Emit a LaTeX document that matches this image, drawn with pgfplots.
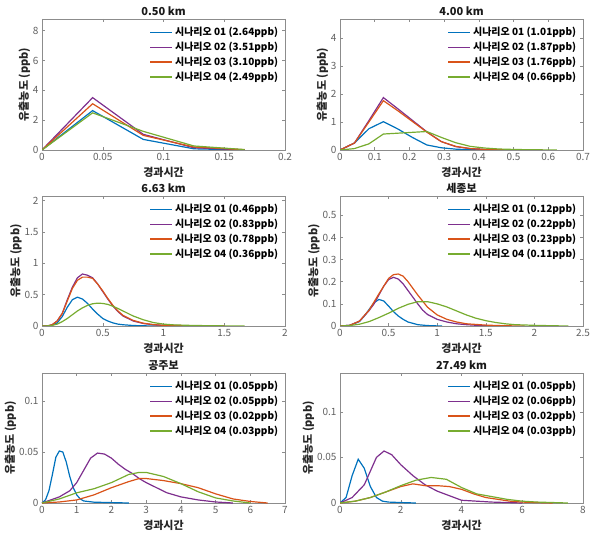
\documentclass[border=0pt]{standalone}
\usepackage{fontspec}
\setmainfont{Noto Sans CJK KR}
\usepackage{pgfplots}
\pgfplotsset{compat=1.18}
\definecolor{c1}{RGB}{0,114,189}
\definecolor{c2}{RGB}{126,47,142}
\definecolor{c3}{RGB}{217,83,25}
\definecolor{c4}{RGB}{119,172,48}
\pgfplotsset{
  legend image code/.code={\draw[#1, line width=1.2pt] (0pt,0pt) -- (22pt,0pt);},
  every axis title shift=0pt,
  panel/.style={
    scale only axis, width=243pt, xmin=0, ymin=0,
    axis line style={black!45}, tick style={black!45, line width=0.5pt},
    tick align=inside, major tick length=3pt,
    ticklabel style={text=black!62, font=\fontsize{10}{12}\selectfont},
    /pgf/number format/assume math mode=true,
    /pgf/number format/fixed,
    scaled ticks=false,
    xlabel={경과시간}, ylabel={유출농도 (ppb)},
    label style={font=\fontsize{11}{13}\selectfont\bfseries, text=black!85},
    xlabel style={yshift=1pt},
    ylabel style={yshift=-4pt},
    title style={at={(axis description cs:0.5,1)}, anchor=base, yshift=3.5pt,
      font=\fontsize{11}{13}\selectfont\bfseries, text=black!90},
    legend style={at={(axis description cs:0.985,1)}, anchor=north east, yshift=-5pt, draw=none, fill=none,
      font=\fontsize{10}{12}\selectfont\bfseries, row sep=1pt, inner sep=1pt},
    legend cell align=left,
    every axis plot/.append style={line width=1.2pt, mark=none},
  }
}
\begin{document}
\begin{tikzpicture}
\path[use as bounding box] (0,0) rectangle (603pt,547pt);
% Panel 1
\begin{axis}[panel, at={(42pt,397pt)}, anchor=south west, height=131pt,
  title={0.50 km}, xmax=0.2, ymax=8.78, xtick={0,0.05,0.1,0.15,0.2}, ytick={0,2,4,6,8}]
\addplot[c1] coordinates {(0,0) (0.04167,2.64) (0.08333,0.71) (0.125,0.08) (0.16667,0)};
\addplot[c2] coordinates {(0,0) (0.04167,3.51) (0.08333,1.05) (0.125,0.15) (0.16667,0.01)};
\addplot[c3] coordinates {(0,0) (0.04167,3.10) (0.08333,0.98) (0.125,0.2) (0.16667,0.02)};
\addplot[c4] coordinates {(0,0) (0.04167,2.49) (0.08333,1.25) (0.125,0.27) (0.16667,0.03)};
\legend{시나리오 01 (2.64ppb),시나리오 02 (3.51ppb),시나리오 03 (3.10ppb),시나리오 04 (2.49ppb)}
\end{axis}
% Panel 2
\begin{axis}[panel, at={(340pt,397pt)}, anchor=south west, height=131pt,
  title={4.00 km}, xmax=0.7, ymax=4.675, xtick={0,0.1,...,0.7}, ytick={0,1,2,3,4}]
\addplot[c1] coordinates {(0,0) (0.04167,0.25) (0.08333,0.76) (0.125,1.01) (0.16667,0.75) (0.20833,0.45) (0.25,0.18) (0.29167,0.08) (0.33333,0.03) (0.375,0.01) (0.41667,0.003) (0.5,0)};
\addplot[c2] coordinates {(0,0) (0.04167,0.25) (0.08333,1.05) (0.125,1.87) (0.16667,1.47) (0.20833,1.06) (0.25,0.65) (0.29167,0.3) (0.33333,0.12) (0.375,0.05) (0.41667,0.02) (0.5,0.004) (0.58333,0)};
\addplot[c3] coordinates {(0,0) (0.04167,0.25) (0.08333,1.0) (0.125,1.76) (0.16667,1.4) (0.20833,1.02) (0.25,0.64) (0.29167,0.3) (0.33333,0.13) (0.375,0.05) (0.41667,0.02) (0.5,0.005) (0.58333,0)};
\addplot[c4] coordinates {(0,0) (0.04167,0.05) (0.08333,0.22) (0.125,0.57) (0.16667,0.6) (0.20833,0.63) (0.25,0.66) (0.29167,0.45) (0.33333,0.26) (0.375,0.13) (0.41667,0.07) (0.45833,0.035) (0.5,0.02) (0.54167,0.01) (0.58333,0.005) (0.625,0)};
\legend{시나리오 01 (1.01ppb),시나리오 02 (1.87ppb),시나리오 03 (1.76ppb),시나리오 04 (0.66ppb)}
\end{axis}
% Panel 3
\begin{axis}[panel, at={(42pt,221pt)}, anchor=south west, height=130pt,
  title={6.63 km}, xmax=2, ymax=2.075, xtick={0,0.5,1,1.5,2}, ytick={0,0.5,1,1.5,2}]
\addplot[c1] coordinates {(0,0) (0.04167,0) (0.08333,0.01) (0.125,0.05) (0.16667,0.15) (0.20833,0.3) (0.25,0.42) (0.29167,0.46) (0.33333,0.43) (0.375,0.36) (0.41667,0.27) (0.45833,0.19) (0.5,0.12) (0.54167,0.08) (0.58333,0.05) (0.625,0.03) (0.66667,0.02) (0.75,0.008) (0.83333,0.003) (0.91667,0.001) (1.0,0)};
\addplot[c2] coordinates {(0,0) (0.04167,0) (0.08333,0.02) (0.125,0.08) (0.16667,0.2) (0.20833,0.42) (0.25,0.62) (0.29167,0.77) (0.33333,0.83) (0.375,0.81) (0.41667,0.77) (0.45833,0.67) (0.5,0.55) (0.54167,0.43) (0.58333,0.32) (0.625,0.23) (0.66667,0.16) (0.75,0.08) (0.83333,0.04) (0.91667,0.02) (1.0,0.01) (1.25,0.002) (1.5,0)};
\addplot[c3] coordinates {(0,0) (0.04167,0) (0.08333,0.02) (0.125,0.08) (0.16667,0.2) (0.20833,0.4) (0.25,0.6) (0.29167,0.73) (0.33333,0.78) (0.375,0.78) (0.41667,0.76) (0.45833,0.67) (0.5,0.56) (0.54167,0.44) (0.58333,0.33) (0.625,0.24) (0.66667,0.17) (0.75,0.09) (0.83333,0.045) (0.91667,0.022) (1.0,0.011) (1.25,0.003) (1.5,0)};
\addplot[c4] coordinates {(0,0) (0.04167,0.002) (0.08333,0.01) (0.125,0.03) (0.16667,0.07) (0.20833,0.12) (0.25,0.18) (0.29167,0.24) (0.33333,0.29) (0.375,0.33) (0.41667,0.355) (0.45833,0.365) (0.5,0.36) (0.54167,0.345) (0.58333,0.315) (0.625,0.28) (0.66667,0.24) (0.75,0.16) (0.83333,0.1) (0.91667,0.055) (1.0,0.03) (1.08333,0.018) (1.25,0.008) (1.5,0.002) (1.66667,0)};
\legend{시나리오 01 (0.46ppb),시나리오 02 (0.83ppb),시나리오 03 (0.78ppb),시나리오 04 (0.36ppb)}
\end{axis}
% Panel 4
\begin{axis}[panel, at={(340pt,221pt)}, anchor=south west, height=130pt,
  title={세종보}, xmax=2.5, ymax=0.5875, xtick={0,0.5,1,1.5,2,2.5}, ytick={0,0.1,0.2,0.3,0.4,0.5}]
\addplot[c1] coordinates {(0,0) (0.1,0.003) (0.2,0.02) (0.25,0.045) (0.3,0.075) (0.35,0.105) (0.4,0.12) (0.45,0.113) (0.5,0.09) (0.55,0.065) (0.6,0.045) (0.65,0.03) (0.7,0.018) (0.8,0.006) (0.9,0.002) (1.0,0.0005) (1.05,0)};
\addplot[c2] coordinates {(0,0) (0.1,0.003) (0.2,0.022) (0.3,0.07) (0.35,0.1) (0.4,0.14) (0.45,0.18) (0.5,0.21) (0.55,0.22) (0.6,0.212) (0.65,0.19) (0.7,0.16) (0.75,0.13) (0.8,0.1) (0.85,0.072) (0.9,0.052) (1.0,0.03) (1.1,0.018) (1.2,0.01) (1.3,0.006) (1.45,0.002) (1.6,0)};
\addplot[c3] coordinates {(0,0) (0.1,0.003) (0.2,0.022) (0.3,0.072) (0.4,0.145) (0.5,0.215) (0.55,0.232) (0.6,0.235) (0.65,0.225) (0.7,0.2) (0.8,0.14) (0.9,0.085) (1.0,0.05) (1.1,0.03) (1.2,0.018) (1.3,0.01) (1.5,0.004) (1.7,0.001) (1.9,0)};
\addplot[c4] coordinates {(0,0) (0.1,0.002) (0.2,0.008) (0.3,0.02) (0.4,0.038) (0.5,0.058) (0.6,0.08) (0.7,0.098) (0.8,0.11) (0.9,0.11) (1.0,0.1) (1.1,0.086) (1.2,0.068) (1.3,0.05) (1.4,0.035) (1.5,0.024) (1.6,0.016) (1.7,0.01) (1.8,0.006) (2.0,0.003) (2.2,0.001) (2.35,0)};
\legend{시나리오 01 (0.12ppb),시나리오 02 (0.22ppb),시나리오 03 (0.23ppb),시나리오 04 (0.11ppb)}
\end{axis}
% Panel 5
\begin{axis}[panel, at={(42pt,44pt)}, anchor=south west, height=130pt,
  title={공주보}, xmax=7, ymax=0.1275, xtick={0,1,...,7}, ytick={0,0.05,0.1}]
\addplot[c1] coordinates {(0,0) (0.1,0.003) (0.2,0.012) (0.3,0.028) (0.4,0.045) (0.5,0.051) (0.6,0.05) (0.7,0.04) (0.8,0.026) (0.9,0.015) (1.0,0.008) (1.1,0.004) (1.2,0.002) (1.5,0.0008) (2.0,0.0004) (2.5,0)};
\addplot[c2] coordinates {(0,0) (0.5,0.006) (0.8,0.012) (1.0,0.02) (1.2,0.032) (1.4,0.044) (1.6,0.049) (1.8,0.048) (2.0,0.044) (2.2,0.038) (2.4,0.033) (2.6,0.029) (2.8,0.024) (3.0,0.02) (3.3,0.015) (3.6,0.01) (4.0,0.006) (4.5,0.003) (5.0,0.001) (5.5,0)};
\addplot[c3] coordinates {(0,0) (0.5,0.001) (1.0,0.003) (1.5,0.008) (2.0,0.015) (2.5,0.021) (2.8,0.024) (3.0,0.024) (3.5,0.022) (4.0,0.019) (4.5,0.015) (5.0,0.009) (5.5,0.004) (6.0,0.0015) (6.5,0)};
\addplot[c4] coordinates {(0,0) (0.5,0.004) (1.0,0.01) (1.5,0.014) (2.0,0.02) (2.5,0.028) (2.8,0.03) (3.0,0.03) (3.5,0.026) (4.0,0.019) (4.5,0.011) (5.0,0.005) (5.5,0.002) (6.0,0)};
\legend{시나리오 01 (0.05ppb),시나리오 02 (0.05ppb),시나리오 03 (0.02ppb),시나리오 04 (0.03ppb)}
\end{axis}
% Panel 6
\begin{axis}[panel, at={(340pt,44pt)}, anchor=south west, height=130pt,
  title={27.49 km}, xmax=8, ymax=0.1425, xtick={0,2,4,6,8}, ytick={0,0.05,0.1}]
\addplot[c1] coordinates {(0,0) (0.2,0.006) (0.4,0.03) (0.6,0.048) (0.8,0.038) (1.0,0.018) (1.2,0.006) (1.4,0.002) (1.6,0.001) (2.0,0.0005) (2.5,0)};
\addplot[c2] coordinates {(0,0) (0.4,0.006) (0.8,0.02) (1.0,0.035) (1.2,0.05) (1.45,0.057) (1.7,0.053) (2.0,0.042) (2.4,0.03) (2.8,0.02) (3.2,0.013) (3.6,0.008) (4.0,0.003) (4.5,0.002) (5.0,0.001) (6.0,0)};
\addplot[c3] coordinates {(0,0) (0.5,0.002) (1.0,0.006) (1.5,0.012) (2.0,0.018) (2.4,0.021) (2.8,0.019) (3.2,0.019) (3.6,0.018) (4.0,0.015) (4.4,0.01) (4.8,0.006) (5.2,0.004) (5.6,0.002) (6.0,0.001) (7.0,0)};
\addplot[c4] coordinates {(0,0) (0.5,0.002) (1.0,0.006) (1.5,0.012) (2.0,0.019) (2.5,0.025) (3.0,0.028) (3.5,0.026) (4.0,0.017) (4.5,0.01) (5.0,0.007) (5.5,0.004) (6.0,0.002) (6.5,0.001) (7.5,0)};
\legend{시나리오 01 (0.05ppb),시나리오 02 (0.06ppb),시나리오 03 (0.02ppb),시나리오 04 (0.03ppb)}
\end{axis}
\end{tikzpicture}
\end{document}
